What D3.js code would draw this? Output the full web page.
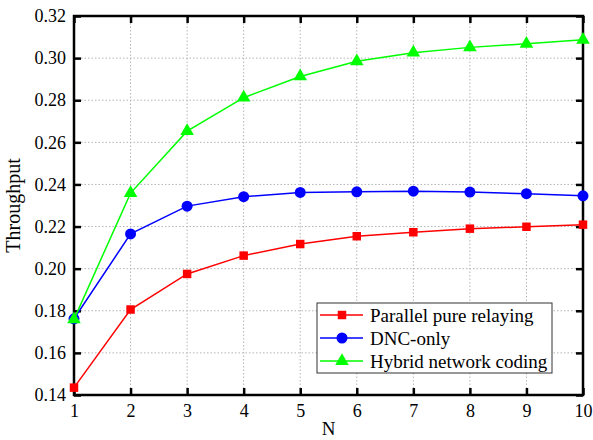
<!DOCTYPE html>
<html>
<head>
<meta charset="utf-8">
<script src="https://cdnjs.cloudflare.com/ajax/libs/d3/7.8.5/d3.min.js"></script>
<style>
	html, body { margin: 0; padding: 0; background: #fff; }
	.chart svg text { font-family: "Liberation Serif", "DejaVu Serif", serif; fill: #000; }
	.axis path { display: none; }
	.axis line { stroke: #000; stroke-width: 2.5; }
	.grid line { stroke: #b4b4b4; stroke-width: 1; stroke-dasharray: 1.5, 2; }
</style>
</head>
<body>
<div class="chart"></div>
<script>
var nValues = [1, 2, 3, 4, 5, 6, 7, 8, 9, 10];
var yTicks = [0.14, 0.16, 0.18, 0.20, 0.22, 0.24, 0.26, 0.28, 0.30, 0.32];
var seriesNames = ['Parallel pure relaying', 'DNC-only', 'Hybrid network coding'];
var parallelRelaying = [0.1435, 0.1806, 0.1975, 0.2062, 0.2117, 0.2154, 0.2173, 0.2190, 0.2199, 0.2209];
var dncOnly = [0.1762, 0.2165, 0.2297, 0.2342, 0.2362, 0.2365, 0.2368, 0.2364, 0.2356, 0.2346];
var hybridCoding = [0.1759, 0.2359, 0.2653, 0.2812, 0.2913, 0.2985, 0.3026, 0.3051, 0.3068, 0.3087];

initLineChart();

// line chart init
function initLineChart() {
	var margin = {
		top: 16,
		right: 10,
		bottom: 45,
		left: 74
	};
	var fullWidth = 593;
	var fullHeight = 440;
	var width = fullWidth - margin.left - margin.right;
	var height = fullHeight - margin.top - margin.bottom;
	var tickLen = 7;
	var serif = '"Liberation Serif", "DejaVu Serif", serif';
	var colors = ['#ff0000', '#0000ff', '#00ff00'];
	var shapes = ['square', 'circle', 'triangle'];
	var allSeries = [parallelRelaying, dncOnly, hybridCoding];

	var svg = d3.select('.chart')
		.append('svg')
		.attr('width', fullWidth)
		.attr('height', fullHeight)
		.style('font-family', serif);

	var wrapper = svg.append('g')
		.attr('transform', 'translate(' + margin.left + ',' + margin.top + ')');

	var xScale = d3.scaleLinear()
		.domain([1, 10])
		.range([0, width]);

	var yScale = d3.scaleLinear()
		.domain([0.14, 0.32])
		.range([height, 0]);

	// dotted grid
	var grid = wrapper.append('g').attr('class', 'grid');

	grid.selectAll('.vgrid')
		.data(nValues.slice(1, -1))
		.enter()
		.append('line')
		.attr('x1', function(d) { return xScale(d); })
		.attr('x2', function(d) { return xScale(d); })
		.attr('y1', 0)
		.attr('y2', height);

	grid.selectAll('.hgrid')
		.data(yTicks.slice(1, -1))
		.enter()
		.append('line')
		.attr('x1', 0)
		.attr('x2', width)
		.attr('y1', function(d) { return yScale(d); })
		.attr('y2', function(d) { return yScale(d); });

	// axes, ticks pointing inside
	var xAxis = wrapper.append('g')
		.attr('class', 'axis x-axis')
		.attr('transform', 'translate(0,' + height + ')')
		.call(d3.axisBottom(xScale).tickValues(nValues).tickFormat(d3.format('d')).tickSizeInner(-tickLen).tickSizeOuter(0).tickPadding(9));

	xAxis.attr('font-family', serif);
	xAxis.selectAll('text')
		.style('font-family', serif)
		.style('font-size', '18px');

	wrapper.append('g')
		.attr('class', 'axis')
		.call(d3.axisTop(xScale).tickValues(nValues).tickFormat('').tickSizeInner(-tickLen).tickSizeOuter(0));

	var yAxis = wrapper.append('g')
		.attr('class', 'axis y-axis')
		.call(d3.axisLeft(yScale).tickValues(yTicks).tickFormat(d3.format('.2f')).tickSizeInner(-tickLen).tickSizeOuter(0).tickPadding(8));

	yAxis.attr('font-family', serif);
	yAxis.selectAll('text')
		.style('font-family', serif)
		.style('font-size', '18px');

	wrapper.append('g')
		.attr('class', 'axis')
		.attr('transform', 'translate(' + width + ',0)')
		.call(d3.axisRight(yScale).tickValues(yTicks).tickFormat('').tickSizeInner(-tickLen).tickSizeOuter(0));

	// frame
	wrapper.append('rect')
		.attr('x', 0)
		.attr('y', 0)
		.attr('width', width)
		.attr('height', height)
		.attr('fill', 'none')
		.attr('stroke', '#000')
		.attr('stroke-width', 2.5);

	// series lines and markers
	var line = d3.line()
		.x(function(d, i) { return xScale(nValues[i]); })
		.y(function(d) { return yScale(d); });

	var symbolTypes = {
		square: d3.symbolSquare,
		circle: d3.symbolCircle,
		triangle: d3.symbolTriangle
	};
	var symbolSizes = {
		square: 72,
		circle: 95,
		triangle: 80
	};

	allSeries.forEach(function(values, s) {
		wrapper.append('path')
			.attr('d', line(values))
			.attr('fill', 'none')
			.attr('stroke', colors[s])
			.attr('stroke-width', 1.5);

		wrapper.selectAll('.marker-' + s)
			.data(values)
			.enter()
			.append('path')
			.attr('class', 'marker-' + s)
			.attr('transform', function(d, i) {
				return 'translate(' + xScale(nValues[i]) + ',' + yScale(d) + ')';
			})
			.attr('d', d3.symbol().type(symbolTypes[shapes[s]]).size(symbolSizes[shapes[s]]))
			.attr('fill', colors[s]);
	});

	// axis titles
	svg.append('text')
		.attr('x', margin.left + width / 2)
		.attr('y', 435)
		.attr('text-anchor', 'middle')
		.style('font-size', '19px')
		.text('N');

	svg.append('text')
		.attr('transform', 'translate(20,' + (margin.top + height / 2) + ') rotate(-90)')
		.attr('text-anchor', 'middle')
		.style('font-size', '20px')
		.text('Throughput');

	// legend
	var legendLineHeight = 23;
	var legendHolder = svg.append('g')
		.attr('transform', 'translate(317,303)');

	legendHolder.append('rect')
		.attr('width', 235)
		.attr('height', 70)
		.attr('fill', '#fff')
		.attr('stroke', '#333')
		.attr('stroke-width', 1);

	var legend = legendHolder.selectAll('.legend')
		.data(seriesNames)
		.enter()
		.append('g')
		.attr('class', 'legend')
		.attr('transform', function(d, i) {
			return 'translate(0,' + (12 + legendLineHeight * i) + ')';
		});

	legend.append('line')
		.attr('x1', 3)
		.attr('x2', 46)
		.attr('stroke', function(d, i) { return colors[i]; })
		.attr('stroke-width', 1.5);

	legend.append('path')
		.attr('transform', 'translate(25,0)')
		.attr('d', function(d, i) {
			return d3.symbol().type(symbolTypes[shapes[i]]).size(symbolSizes[shapes[i]])();
		})
		.attr('fill', function(d, i) { return colors[i]; });

	legend.append('text')
		.attr('x', 53)
		.attr('dy', '0.35em')
		.style('font-family', serif)
		.style('font-size', '19px')
		.text(function(d) { return d; });
}
</script>
</body>
</html>
